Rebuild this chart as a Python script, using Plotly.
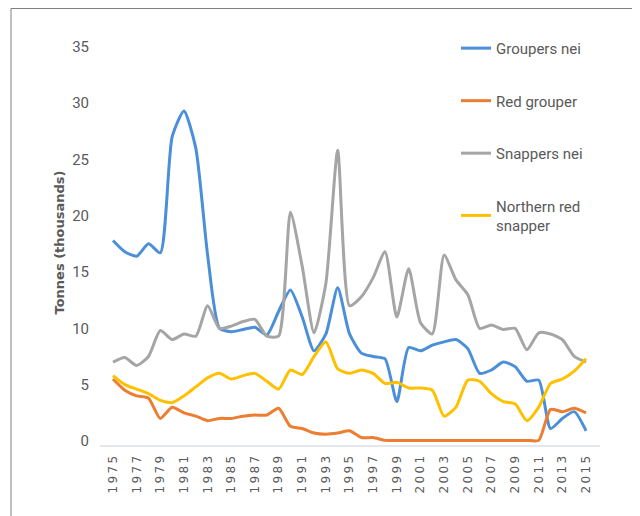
"""Landings of groupers and snappers, 1975-2015."""

import plotly.graph_objects as go

years = list(range(1975, 2016))

groupers_nei = [
    17.8, 16.8, 16.4, 17.5, 16.7, 27.0, 29.3, 26.0, 16.5, 10.0,
    9.7, 9.9, 10.1, 9.4, 11.5, 13.4, 11.0, 8.0, 9.5, 13.6,
    9.5, 7.8, 7.5, 7.3, 3.5, 8.3, 8.0, 8.5, 8.8, 9.0,
    8.2, 6.0, 6.3, 7.0, 6.6, 5.3, 5.4, 1.1, 2.0, 2.6,
    0.9,
]
red_grouper = [
    5.5, 4.5, 4.0, 3.8, 2.0, 3.0, 2.5, 2.2, 1.8, 2.0,
    2.0, 2.2, 2.3, 2.3, 2.9, 1.3, 1.1, 0.7, 0.6, 0.7,
    0.9, 0.3, 0.3, 0.05, 0.05, 0.05, 0.05, 0.05, 0.05, 0.05,
    0.05, 0.05, 0.05, 0.05, 0.05, 0.05, 0.05, 2.8, 2.6, 2.9,
    2.5,
]
snappers_nei = [
    7.0, 7.4, 6.7, 7.5, 9.8, 9.0, 9.5, 9.3, 12.0, 10.0,
    10.2, 10.6, 10.8, 9.3, 9.3, 20.3, 15.5, 9.6, 14.0, 25.8,
    12.0, 12.8, 14.5, 16.8, 11.0, 15.3, 10.5, 9.5, 16.5, 14.3,
    13.0, 10.0, 10.3, 9.9, 10.0, 8.1, 9.6, 9.5, 9.0, 7.5,
    7.0,
]
northern_red_snapper = [
    5.8, 5.0, 4.6, 4.2, 3.6, 3.4, 4.0, 4.8, 5.6, 6.0,
    5.5, 5.8, 6.0, 5.3, 4.6, 6.3, 5.9, 7.5, 8.8, 6.4,
    6.0, 6.3, 6.0, 5.1, 5.2, 4.7, 4.7, 4.5, 2.2, 3.0,
    5.4, 5.3, 4.2, 3.5, 3.3, 1.8, 3.0, 5.1, 5.5, 6.2,
    7.3,
]

series = [
    ("Groupers nei", groupers_nei, "#4a8fd8"),
    ("Red grouper", red_grouper, "#ed7d31"),
    ("Snappers nei", snappers_nei, "#a5a5a5"),
    ("Northern red<br>snapper", northern_red_snapper, "#ffc000"),
]

TEXT_COLOR = "#595959"
NARROW = "Liberation Sans Narrow, Roboto, sans-serif"
WIDE = "DejaVu Sans, Verdana, sans-serif"

fig = go.Figure()
for index, (name, values, color) in enumerate(series):
    fig.add_trace(
        go.Scatter(
            x=years,
            y=values,
            name=name,
            mode="lines",
            line={"color": color, "width": 3, "shape": "spline", "smoothing": 0.6},
            legendgroup=f"g{index}",
        )
    )

# the page body adds an 8px offset, so the margins are shifted by 8px
fig.update_layout(
    width=640,
    height=516,
    margin={"l": 92, "r": 48, "t": 32, "b": 79},
    paper_bgcolor="white",
    plot_bgcolor="white",
    font={"family": NARROW, "color": TEXT_COLOR, "size": 13},
    legend={
        "x": 0.712,
        "y": 1.02,
        "xanchor": "left",
        "yanchor": "top",
        "traceorder": "grouped",
        "tracegroupgap": 30,
        "font": {"family": NARROW, "size": 15, "color": TEXT_COLOR},
        "bgcolor": "rgba(0,0,0,0)",
    },
    shapes=[
        {
            "type": "line", "xref": "paper", "yref": "paper",
            "x0": -0.178, "x1": 1.2, "y0": 1.0778, "y1": 1.0778,
            "line": {"color": "#7f7f7f", "width": 1},
        },
        {
            "type": "line", "xref": "paper", "yref": "paper",
            "x0": -0.178, "x1": -0.178, "y0": -0.25, "y1": 1.0778,
            "line": {"color": "#7f7f7f", "width": 1},
        },
    ],
)
fig.update_xaxes(
    range=[1973.9, 2016.18],
    tickmode="array",
    tickvals=years[::2],
    ticktext=["\u2009".join(str(y)) for y in years[::2]],
    tickangle=-90,
    tickfont={"family": WIDE, "size": 12, "color": TEXT_COLOR},
    showgrid=False,
    zeroline=False,
    showline=True,
    linecolor="#e3e6ea",
    linewidth=2,
    ticks="",
    ticklabelstandoff=4,
)
fig.update_yaxes(
    range=[-0.36, 35.6],
    tickvals=[0, 5, 10, 15, 20, 25, 30, 35],
    tickfont={"family": NARROW, "size": 15, "color": TEXT_COLOR},
    title={
        "text": "<b>Tonnes (thousands)</b>",
        "font": {"family": WIDE, "size": 13, "color": TEXT_COLOR},
        "standoff": 4,
    },
    showgrid=False,
    zeroline=False,
    showline=False,
    ticks="",
    ticklabelstandoff=10,
)

fig.write_html("out.html")
